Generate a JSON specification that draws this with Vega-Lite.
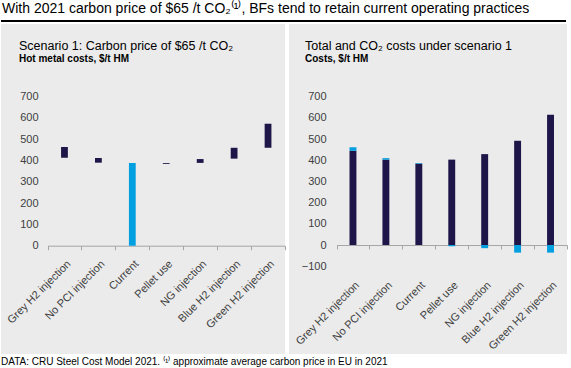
{
  "$schema": "https://vega.github.io/schema/vega-lite/v6.json",
  "background": "white",
  "padding": {"left": 1, "top": 2, "right": 4, "bottom": 2},
  "config": {
    "font": "Liberation Sans",
    "view": {"stroke": null},
    "axis": {"labelColor": "#404040", "labelFont": "Liberation Sans", "grid": false, "title": null},
    "title": {"color": "#000000", "fontWeight": "normal", "anchor": "start"}
  },
  "title": {
    "text": "DATA: CRU Steel Cost Model 2021. ⁽¹⁾ approximate average carbon price in EU in 2021",
    "orient": "bottom",
    "anchor": "start",
    "fontSize": 10,
    "fontWeight": "normal",
    "color": "#000000",
    "offset": 3,
    "frame": "bounds"
  },
  "spacing": 2,
  "vconcat": [
    {
      "width": 565,
      "height": 2,
      "view": {"fill": "#000000", "stroke": null},
      "title": {"text": "With 2021 carbon price of $65 /t CO₂⁽¹⁾, BFs tend to retain current operating practices", "fontSize": 14, "fontWeight": "normal", "anchor": "start", "offset": 4, "dx": 1},
      "data": {"values": []},
      "mark": "rule",
      "encoding": {}
    },
    {
      "spacing": 3,
      "hconcat": [
        {
          "width": 284,
          "height": 330,
          "view": {"fill": "#EBEBEB", "stroke": null},
          "title": {
            "text": "Scenario 1: Carbon price of $65 /t CO₂",
            "subtitle": "Hot metal costs, $/t HM",
            "fontSize": 12.5,
            "fontWeight": "normal",
            "subtitleFontSize": 10,
            "subtitleFontWeight": "bold",
            "subtitleColor": "#000000",
            "subtitlePadding": 2,
            "anchor": "start",
            "frame": "group",
            "offset": -40,
            "dx": 18
          },
          "data": {"values": [
            {"option": "Grey H2 injection", "kind": "Option", "low": 413, "high": 464},
            {"option": "No PCI injection", "kind": "Option", "low": 390, "high": 412},
            {"option": "Current", "kind": "Current", "low": 0, "high": 388},
            {"option": "Pellet use", "kind": "Option", "low": 384, "high": 388},
            {"option": "NG injection", "kind": "Option", "low": 389, "high": 407},
            {"option": "Blue H2 injection", "kind": "Option", "low": 409, "high": 460},
            {"option": "Green H2 injection", "kind": "Option", "low": 460, "high": 573}
          ]},
          "mark": {"type": "bar", "width": {"band": 0.2}},
          "encoding": {
            "x": {
              "field": "option", "type": "nominal", "sort": null,
              "scale": {"range": [46.5, 284], "paddingInner": 0, "paddingOuter": 0},
              "axis": {"orient": "bottom", "offset": -108.3, "tickBand": "extent", "labelAngle": -45, "labelFontSize": 11, "domainColor": "#A6A6A6", "tickColor": "#A6A6A6", "tickSize": 4, "labelPadding": 8}
            },
            "y": {
              "field": "low", "type": "quantitative",
              "scale": {"domain": [-508.8, 1041.5], "nice": false, "zero": false},
              "axis": {"values": [0, 100, 200, 300, 400, 500, 600, 700], "offset": -39, "domain": false, "ticks": false, "labelPadding": 2, "labelFontSize": 11}
            },
            "y2": {"field": "high"},
            "color": {"field": "kind", "type": "nominal", "scale": {"domain": ["Option", "Current"], "range": ["#1E1648", "#009FDF"]}, "legend": null}
          }
        },
        {
          "width": 278,
          "height": 330,
          "view": {"fill": "#EBEBEB", "stroke": null},
          "title": {
            "text": "Total and CO₂ costs under scenario 1",
            "subtitle": "Costs, $/t HM",
            "fontSize": 12.5,
            "fontWeight": "normal",
            "subtitleFontSize": 10,
            "subtitleFontWeight": "bold",
            "subtitleColor": "#000000",
            "subtitlePadding": 2,
            "anchor": "start",
            "frame": "group",
            "offset": -40,
            "dx": 16
          },
          "data": {"values": [
            {"option": "Grey H2 injection", "series": "Total", "value": 445},
            {"option": "Grey H2 injection", "series": "CO2", "value": 17},
            {"option": "No PCI injection", "series": "Total", "value": 403},
            {"option": "No PCI injection", "series": "CO2", "value": 7},
            {"option": "Current", "series": "Total", "value": 384},
            {"option": "Current", "series": "CO2", "value": 3},
            {"option": "Pellet use", "series": "Total", "value": 403},
            {"option": "Pellet use", "series": "CO2", "value": -6},
            {"option": "NG injection", "series": "Total", "value": 429},
            {"option": "NG injection", "series": "CO2", "value": -15},
            {"option": "Blue H2 injection", "series": "Total", "value": 492},
            {"option": "Blue H2 injection", "series": "CO2", "value": -36},
            {"option": "Green H2 injection", "series": "Total", "value": 615},
            {"option": "Green H2 injection", "series": "CO2", "value": -36}
          ]},
          "mark": {"type": "bar", "width": {"band": 0.21}},
          "encoding": {
            "x": {
              "field": "option", "type": "nominal", "sort": null,
              "scale": {"range": [47.5, 278], "paddingInner": 0, "paddingOuter": 0},
              "axis": {"orient": "bottom", "offset": -109, "tickBand": "extent", "labelAngle": -45, "labelFontSize": 11, "domainColor": "#A6A6A6", "tickColor": "#A6A6A6", "tickSize": 4, "labelPadding": 30}
            },
            "y": {
              "field": "value", "type": "quantitative", "stack": "zero",
              "scale": {"domain": [-514.5, 1043.2], "nice": false, "zero": false},
              "axis": {"values": [-100, 0, 100, 200, 300, 400, 500, 600, 700], "offset": -39, "domain": false, "ticks": false, "labelPadding": 2, "labelFontSize": 11}
            },
            "color": {
              "field": "series", "type": "nominal",
              "scale": {"domain": ["Total", "CO2"], "range": ["#1E1648", "#4BACC6"]},
              "legend": {"title": null, "orient": "none", "direction": "horizontal", "legendX": 79, "legendY": 46, "symbolType": "square", "symbolSize": 40, "symbolStrokeWidth": 0, "labelFontSize": 11, "labelColor": "#404040", "labelOffset": 2, "columnPadding": 10}
            },
            "order": {"field": "series", "sort": "descending"}
          }
        }
      ]
    }
  ]
}
